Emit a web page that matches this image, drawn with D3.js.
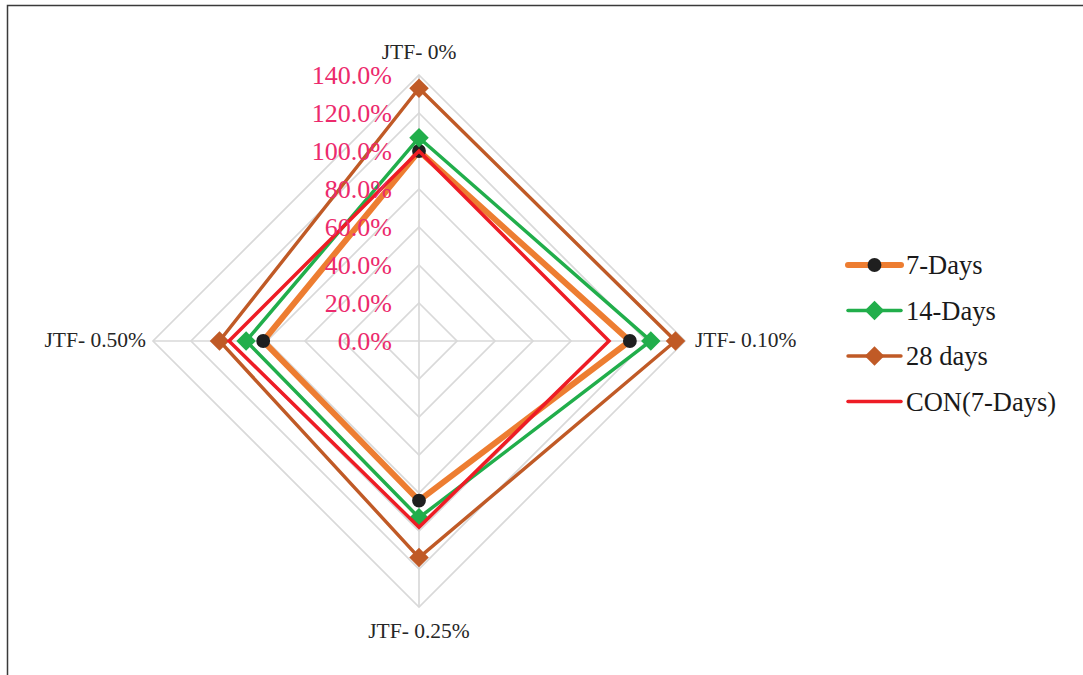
<!DOCTYPE html>
<html><head><meta charset="utf-8">
<script src="https://cdn.jsdelivr.net/npm/d3@7"></script>
<style>html,body{margin:0;padding:0;background:#fff;}svg{display:block;}</style>
</head><body>
<svg id="chart" width="1083" height="675"></svg>
<script>
const axesLabels = ["JTF- 0%", "JTF- 0.10%", "JTF- 0.25%", "JTF- 0.50%"];
const seriesNames = ["7-Days", "14-Days", "28 days", "CON(7-Days)"];
const days7  = [100, 111, 84, 82];
const days14 = [107, 122, 93, 91];
const days28 = [133, 135, 114, 105];
const con7   = [100, 100, 98, 100];
const tickValues = [0, 20, 40, 60, 80, 100, 120, 140];

const seriesValues = [days7, days14, days28, con7];
const styles = [
  {color:"#ED7D31", width:6, marker:"circle", mcolor:"#1f1f1f", msize:150},
  {color:"#21AE4B", width:3.5, marker:"diamond", mcolor:"#21AE4B", msize:190},
  {color:"#C05A26", width:3.4, marker:"diamond", mcolor:"#C05A26", msize:190},
  {color:"#EE1C25", width:3.5, marker:null}
];

const svg = d3.select("#chart");
const cx = 419, cy = 341, R = 266;
const r = d3.scaleLinear().domain([0, 140]).range([0, R]);
const ang = d3.scalePoint().domain(d3.range(axesLabels.length)).range([0, 2*Math.PI*(axesLabels.length-1)/axesLabels.length]);
const pt = (i, v) => [cx + r(v)*Math.sin(ang(i)), cy - r(v)*Math.cos(ang(i))];

// border
svg.append("path").attr("d", `M7.5,675 L7.5,5.5 L1083,5.5`).attr("fill","none").attr("stroke","#3a3a3a").attr("stroke-width",1.5);

const g = svg.append("g");
// grid polygons
tickValues.filter(t=>t>0).forEach(t=>{
  g.append("path")
    .attr("d", d3.line()(axesLabels.map((_,i)=>pt(i,t))) + "Z")
    .attr("fill","none").attr("stroke","#d9d9d9").attr("stroke-width",1.7);
});
// spokes
axesLabels.forEach((_,i)=>{
  const p = pt(i,140);
  g.append("line").attr("x1",cx).attr("y1",cy).attr("x2",p[0]).attr("y2",p[1])
    .attr("stroke","#d9d9d9").attr("stroke-width",1.7);
});

// series
seriesValues.forEach((vals, s)=>{
  const st = styles[s];
  const pts = vals.map((v,i)=>pt(i,v));
  g.append("path").attr("d", d3.line()(pts)+"Z")
    .attr("fill","none").attr("stroke",st.color).attr("stroke-width",st.width)
    .attr("stroke-linejoin","miter");
  if (st.marker){
    const sym = d3.symbol().type(st.marker==="circle"?d3.symbolCircle:d3.symbolSquare).size(st.msize);
    pts.forEach(p=>{
      g.append("path").attr("d", sym())
        .attr("transform", `translate(${p[0]},${p[1]})` + (st.marker==="diamond"?" rotate(45)":""))
        .attr("fill", st.mcolor);
    });
  }
});

// tick labels
tickValues.forEach(t=>{
  g.append("text").attr("x", 392).attr("y", cy - r(t)).attr("dy","0.36em")
    .attr("text-anchor","end")
    .attr("font-family","'Liberation Serif', 'Times New Roman', serif")
    .attr("font-size",26).attr("fill","#EC2A6C")
    .text(d3.format(".1f")(t)+"%");
});

// axis labels
const lf = "'Liberation Serif', 'Times New Roman', serif";
const axisPos = [
  {x:cx, y:cy - R - 16, anchor:"middle"},
  {x:cx + R + 10, y:cy + 6, anchor:"start"},
  {x:cx, y:cy + R + 31, anchor:"middle"},
  {x:cx - R - 7, y:cy + 6, anchor:"end"}
];
axesLabels.forEach((lab,i)=>{
  g.append("text").attr("x",axisPos[i].x).attr("y",axisPos[i].y)
    .attr("text-anchor",axisPos[i].anchor).attr("font-family",lf)
    .attr("font-size",21.5).attr("fill","#262626").text(lab);
});

// legend
const leg = svg.append("g");
seriesNames.forEach((name,s)=>{
  const st = styles[s];
  const y = 265 + s*45.5;
  leg.append("line").attr("x1",848).attr("x2",901).attr("y1",y).attr("y2",y)
    .attr("stroke",st.color).attr("stroke-width",st.width).attr("stroke-linecap","round");
  if (st.marker){
    const sym = d3.symbol().type(st.marker==="circle"?d3.symbolCircle:d3.symbolSquare).size(st.msize);
    leg.append("path").attr("d", sym())
      .attr("transform", `translate(874.5,${y})` + (st.marker==="diamond"?" rotate(45)":""))
      .attr("fill", st.mcolor);
  }
  leg.append("text").attr("x",906).attr("y",y).attr("dy","0.35em")
    .attr("font-family",lf).attr("font-size",26.5).attr("fill","#1a1a1a").text(name);
});
</script>
</body></html>
